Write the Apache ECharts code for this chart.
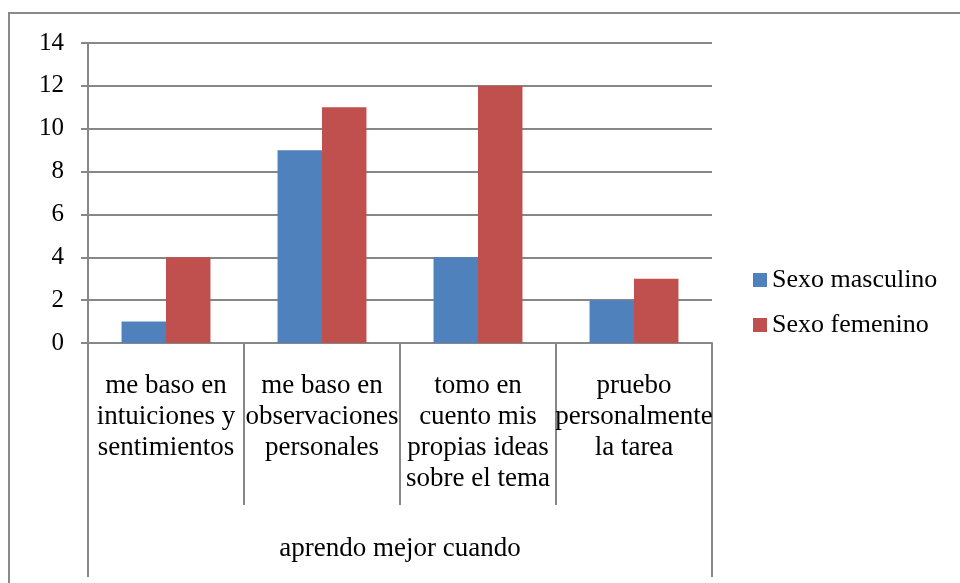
<!DOCTYPE html>
<html>
<head>
<meta charset="utf-8">
<script src="https://cdn.jsdelivr.net/npm/echarts@6/dist/echarts.min.js"></script>
<style>
html, body { margin: 0; padding: 0; background: #fff; }
#chart { width: 960px; height: 583px; }
</style>
</head>
<body>
<div id="chart"></div>
<script>
// categorias (con los saltos de linea del original)
var categorias = [
    'me baso en\nintuiciones y\nsentimientos',
    'me baso en\nobservaciones\npersonales',
    'tomo en\ncuento mis\npropias ideas\nsobre el tema',
    'pruebo\npersonalmente\nla tarea'
];
var grupo = ['aprendo mejor cuando'];
var nombres = ['Sexo masculino', 'Sexo femenino'];
var masculino = [1, 9, 4, 2];
var femenino = [4, 11, 12, 3];
var ticksY = [0, 2, 4, 6, 8, 10, 12, 14];

var fuente = 'Liberation Serif';
var gris = '#878787';

var chart = echarts.init(document.getElementById('chart'));
chart.setOption({
    backgroundColor: '#fff',
    animation: false,
    textStyle: { fontFamily: fuente },
    graphic: [{
        type: 'rect',
        shape: { x: 9, y: 13, width: 1000, height: 1000 },
        style: { fill: 'none', stroke: '#8a8a8a', lineWidth: 2 },
        silent: true
    }],
    grid: { left: 88, top: 43, right: 248, bottom: 240, containLabel: false },
    legend: {
        orient: 'vertical',
        left: 748,
        top: 262,
        icon: 'rect',
        itemWidth: 14,
        itemHeight: 14,
        itemGap: 19,
        data: nombres,
        textStyle: { fontFamily: fuente, fontSize: 26, color: '#000' }
    },
    xAxis: [{
        type: 'category',
        data: categorias,
        axisLine: { show: true, lineStyle: { color: gris, width: 2 } },
        axisTick: { show: true, interval: 0, alignWithLabel: false, length: 162, lineStyle: { color: gris, width: 2 } },
        axisLabel: {
            interval: 0, margin: 27, color: '#000',
            fontFamily: fuente, fontSize: 27, lineHeight: 31
        },
        splitLine: { show: false }
    }, {
        type: 'category',
        data: grupo,
        position: 'bottom',
        axisLine: { show: false },
        axisTick: { show: true, length: 234, lineStyle: { color: gris, width: 2 } },
        axisLabel: {
            margin: 190, color: '#000',
            fontFamily: fuente, fontSize: 27, lineHeight: 31
        },
        splitLine: { show: false }
    }],
    yAxis: {
        type: 'value',
        min: ticksY[0],
        max: ticksY[ticksY.length - 1],
        interval: 2,
        axisLine: { show: true, lineStyle: { color: gris, width: 2 } },
        axisTick: { show: true, length: 7, lineStyle: { color: gris, width: 2 } },
        axisLabel: { margin: 24, color: '#000', fontFamily: fuente, fontSize: 25 },
        splitLine: { show: true, lineStyle: { color: gris, width: 2 } }
    },
    series: [{
        name: nombres[0],
        type: 'bar',
        xAxisIndex: 0,
        data: masculino,
        barGap: 0,
        barCategoryGap: '43%',
        itemStyle: { color: '#4F81BD' }
    }, {
        name: nombres[1],
        type: 'bar',
        xAxisIndex: 0,
        data: femenino,
        barGap: 0,
        barCategoryGap: '43%',
        itemStyle: { color: '#C0504D' }
    }]
});
</script>
</body>
</html>
